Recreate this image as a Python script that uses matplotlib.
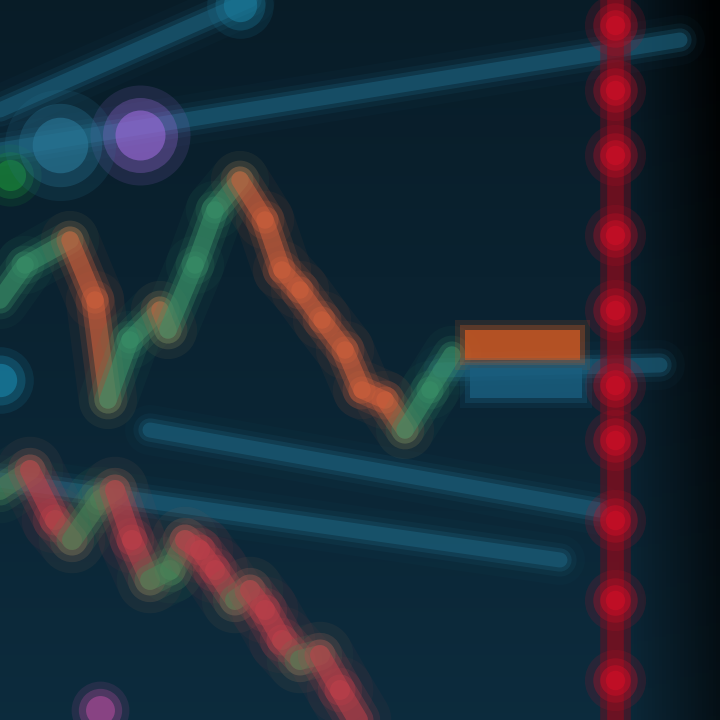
import matplotlib
matplotlib.use("Agg")
import matplotlib.pyplot as plt
import numpy as np

# upper price line (x index, price)
upper_x = [0, 25, 70, 95, 108, 130, 160, 168, 195, 215, 240, 265, 282, 300, 322, 345, 362, 385, 405, 430, 452]
upper_y = [420, 455, 480, 420, 320, 380, 410, 390, 455, 510, 540, 500, 450, 430, 400, 370, 330, 320, 290, 330, 365]

# lower price line
lower_x = [0, 30, 55, 72, 100, 115, 132, 150, 170, 185, 200, 215, 235, 250, 265, 282, 300, 320, 340, 358]
lower_y = [230, 250, 200, 180, 220, 230, 180, 140, 150, 180, 170, 150, 120, 130, 110, 80, 60, 65, 30, 0]

# marker line dots
marker_x = 615
marker_y = [695, 630, 565, 485, 410, 335, 280, 200, 120, 40]

# trend/grid lines (x0, y0, x1, y1)
grid_x0 = [0, 0, 440, 150, 0]
grid_y0 = [570, 610, 350, 290, 240]
grid_x1 = [680, 250, 660, 600, 560]
grid_y1 = [680, 720, 355, 210, 160]

# price tags
tag_x = [465, 470]
tag_y = [360, 322]
tag_w = [115, 112]
tag_h = [30, 30]
tag_colors = ["#d25a22", "#1a5f80"]

# soft blobs
blob_x = [140, 10, 240, 0, 100, 60]
blob_y = [585, 545, 715, 340, 10, 575]
blob_s = [45, 28, 30, 30, 26, 50]
blob_c = ["#9a6ad8", "#1a8a3a", "#1a7a9a", "#1a86aa", "#b04c9a", "#2a7898"]


def glow_line(ax, xs, ys, color, width, alpha=1.0):
    for w, a in [(width * 3.0, 0.06), (width * 2.0, 0.14), (width * 1.4, 0.3), (width * 0.9, 0.55)]:
        ax.plot(xs, ys, color=color, lw=w, alpha=a * alpha, solid_capstyle="round")


def candle_line(ax, xs, ys, width, up_col, down_col):
    for i in range(len(xs) - 1):
        c = up_col if ys[i + 1] > ys[i] else down_col
        glow_line(ax, xs[i:i + 2], ys[i:i + 2], c, width)


def main():
    fig = plt.figure(figsize=(7.2, 7.2), dpi=100)
    ax = fig.add_axes([0, 0, 1, 1])
    ax.set_xlim(0, 720)
    ax.set_ylim(0, 720)
    ax.axis("off")

    # background gradient: navy, darker to the right and top
    gx = np.linspace(0, 1, 200)
    gy = np.linspace(0, 1, 200)
    X, Y = np.meshgrid(gx, gy)
    base = np.array([0.05, 0.17, 0.24])
    dark = np.clip(1 - 0.35 * Y - np.clip((X - 0.86) * 5, 0, 1) * 0.9, 0.05, 1)
    img = base[None, None, :] * dark[:, :, None]
    ax.imshow(img, extent=[0, 720, 0, 720], origin="lower", aspect="auto", zorder=0)

    for x0, y0, x1, y1 in zip(grid_x0, grid_y0, grid_x1, grid_y1):
        glow_line(ax, [x0, x1], [y0, y1], "#1f6a88", 12, 0.8)

    # red marker line
    ax.plot([marker_x, marker_x], [0, 720], color="#7a0c1c", lw=22, alpha=0.45, zorder=2)
    ax.plot([marker_x, marker_x], [0, 720], color="#8a0c1c", lw=12, alpha=0.6, zorder=2)
    for w, a in [(44, 0.15), (32, 0.3), (22, 0.5), (14, 0.7)]:
        ax.scatter([marker_x] * len(marker_y), marker_y, s=w ** 2, color="#c80e26",
                   alpha=a, lw=0, zorder=3)

    candle_line(ax, upper_x, upper_y, 14, "#3a9068", "#d0603c")
    candle_line(ax, lower_x, lower_y, 16, "#4a8458", "#c0404a")

    for x, y, w, h, c in zip(tag_x, tag_y, tag_w, tag_h, tag_colors):
        for pad, a in [(10, 0.15), (5, 0.3), (0, 0.75)]:
            ax.add_patch(plt.Rectangle((x - pad, y - pad), w + 2 * pad, h + 2 * pad,
                                       color=c, alpha=a, lw=0, zorder=4))

    for x, y, s, c in zip(blob_x, blob_y, blob_s, blob_c):
        for k, a in [(1.6, 0.15), (1.2, 0.3), (0.8, 0.6)]:
            ax.scatter([x], [y], s=(s * k) ** 2, color=c, alpha=a, lw=0, zorder=4)

    fig.savefig("out.png", dpi=100)


if __name__ == "__main__":
    main()
